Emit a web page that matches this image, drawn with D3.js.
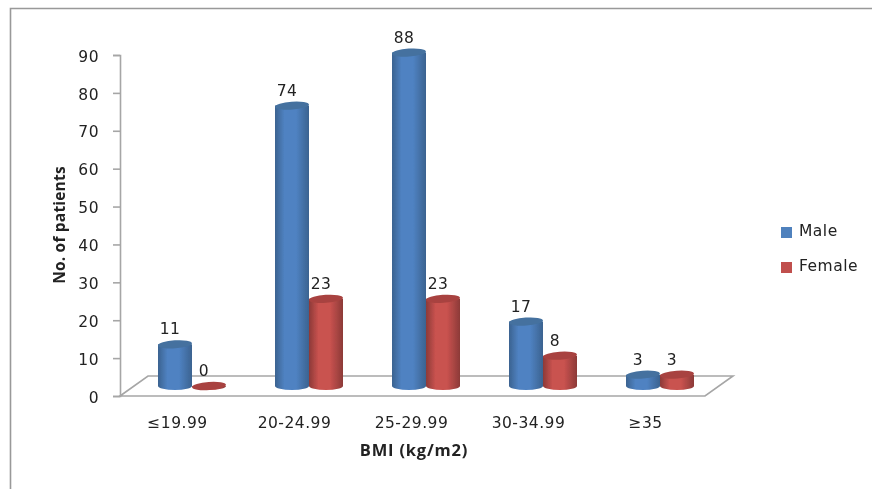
<!DOCTYPE html>
<html>
<head>
<meta charset="utf-8">
<script src="https://cdn.jsdelivr.net/npm/d3@7"></script>
<style>
  html, body { margin: 0; padding: 0; background: #fff; }
  svg { display: block; }
  text { font-family: "DejaVu Sans", sans-serif; fill: #222; }
  .lbl { font-size: 15.5px; letter-spacing: 0.5px; }
  .ttl { font-family: "Open Sans", sans-serif; font-weight: 700; }
</style>
</head>
<body>
<div id="chart"></div>
<script>
const categories = ["≤19.99", "20-24.99", "25-29.99", "30-34.99", "≥35"]
const seriesNames = ["Male", "Female"]
const male = [11, 74, 88, 17, 3]
const female = [0, 23, 23, 8, 3]
const yTicks = [0, 10, 20, 30, 40, 50, 60, 70, 80, 90]

const width = 872, height = 489
const svg = d3.select("#chart").append("svg")
    .attr("width", width)
    .attr("height", height)

const defs = svg.append("defs")
// the reference is a soft, slightly blurred screenshot
defs.append("filter").attr("id", "soft")
    .attr("filterUnits", "userSpaceOnUse")
    .attr("x", 0).attr("y", 0)
    .attr("width", width).attr("height", height)
    .append("feGaussianBlur").attr("stdDeviation", 0.4)

// gradients for the cylinder sides
function sideGradient(id, edge, mid) {
    const g = defs.append("linearGradient").attr("id", id)
    g.append("stop").attr("offset", "0%").attr("stop-color", edge)
    g.append("stop").attr("offset", "28%").attr("stop-color", mid)
    g.append("stop").attr("offset", "62%").attr("stop-color", mid)
    g.append("stop").attr("offset", "100%").attr("stop-color", edge)
}
sideGradient("side-male", "#3b6390", "#4f82c2")
sideGradient("side-female", "#8c3a38", "#c9524f")

const root = svg.append("g").attr("filter", "url(#soft)")

// outer frame, open at the bottom and running off to the right
root.append("path")
    .attr("d", "M10.5,489V8.5H872")
    .attr("fill", "none")
    .attr("stroke", "#999")
    .attr("stroke-width", 1.6)

const x = d3.scaleBand().domain(categories).range([120, 705])
const y = d3.scaleLinear().domain([0, 90]).range([396, 55])

// floor
const depthX = 28, depthY = -20
root.append("path")
    .attr("d", `M${x.range()[0]},396L${x.range()[0] + depthX},${396 + depthY}H${x.range()[1] + depthX}L${x.range()[1]},396Z`)
    .attr("fill", "#fff")
    .attr("stroke", "#a6a6a6")
    .attr("stroke-width", 1.6)

// axes
const yAxis = root.append("g")
    .attr("transform", "translate(120,0)")
    .call(d3.axisLeft(y).tickValues(yTicks).tickSize(7).tickPadding(14))
yAxis.selectAll("path, line").attr("stroke", "#a6a6a6").attr("stroke-width", 1.6)
yAxis.selectAll("text").attr("class", "lbl").attr("dy", "0.4em")

root.append("g").selectAll("text")
    .data(categories)
    .join("text")
    .attr("class", "lbl")
    .attr("x", d => x(d) + x.bandwidth() / 2 - 1)
    .attr("y", 428)
    .attr("text-anchor", "middle")
    .text(d => d)

// cylinders
const barW = 34, rx = barW / 2, ry = 4, baseShift = 10
const xOffset = {Male: -3.5, Female: 30.5}
const rows = categories.flatMap((c, i) => [
    {cat: c, name: "Male", v: male[i]},
    {cat: c, name: "Female", v: female[i]}
])

const bars = root.append("g").selectAll("g")
    .data(rows)
    .join("g")
    .attr("transform", d => `translate(${x(d.cat) + x.bandwidth() / 2 + xOffset[d.name]},0)`)

bars.append("path")
    .attr("d", d => {
        const top = y(d.v) - baseShift, bot = y(0) - baseShift
        return `M${-rx},${top}V${bot}A${rx},${ry} 0 0 0 ${rx},${bot}V${top}Z`
    })
    .attr("fill", d => d.name === "Male" ? "url(#side-male)" : "url(#side-female)")

bars.append("ellipse")
    .attr("cy", d => y(d.v) - baseShift)
    .attr("rx", rx)
    .attr("ry", ry)
    .attr("transform", d => `rotate(-4 0 ${y(d.v) - baseShift})`)
    .attr("fill", d => d.name === "Male" ? "#44719f" : "#a84340")

bars.append("text")
    .attr("class", "lbl")
    .attr("x", -5)
    .attr("y", d => y(d.v) - baseShift - 10)
    .attr("text-anchor", "middle")
    .text(d => d.v)

// axis titles
root.append("text")
    .attr("class", "ttl")
    .attr("x", 414)
    .attr("y", 456)
    .attr("text-anchor", "middle")
    .style("font-size", "16.5px")
    .style("letter-spacing", "0.8px")
    .text("BMI (kg/m2)")

root.append("text")
    .attr("class", "ttl")
    .attr("transform", "translate(65,225) rotate(-90)")
    .attr("text-anchor", "middle")
    .style("font-size", "15.5px")
    .style("letter-spacing", "0.2px")
    .text("No. of patients")

// legend
const legendY = d3.scalePoint().domain(seriesNames).range([232, 267])
const legend = root.append("g").selectAll("g")
    .data(seriesNames)
    .join("g")
    .attr("transform", d => `translate(781,${legendY(d)})`)
legend.append("rect")
    .attr("y", -5)
    .attr("width", 11)
    .attr("height", 11)
    .attr("fill", d => d === "Male" ? "#4f81bd" : "#c0504d")
legend.append("text")
    .attr("class", "lbl")
    .attr("x", 18)
    .attr("y", 4)
    .text(d => d)
</script>
</body>
</html>
